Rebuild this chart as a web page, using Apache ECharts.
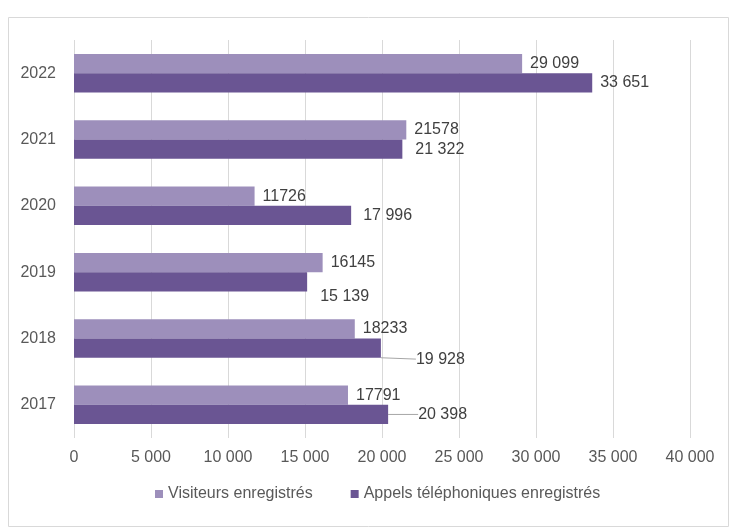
<!DOCTYPE html>
<html>
<head>
<meta charset="utf-8">
<script src="https://cdn.jsdelivr.net/npm/echarts@6/dist/echarts.min.js"></script>
<style>
  html, body { margin: 0; padding: 0; background: #fff; }
  #chart { width: 732px; height: 529px; }
</style>
</head>
<body>
<div id="chart"></div>
<script>
// years, bottom to top
const years = ['2017', '2018', '2019', '2020', '2021', '2022'];
const visiteurs = [17791, 18233, 16145, 11726, 21578, 29099];
const appels = [20398, 19928, 15139, 17996, 21322, 33651];
// labels as printed on the original
const visiteursLabels = ['17791', '18233', '16145', '11726', '21578', '29 099'];
const appelsLabels = ['20 398', '19 928', '15 139', '17 996', '21 322', '33 651'];
const xTicks = [0, 5000, 10000, 15000, 20000, 25000, 30000, 35000, 40000];

const txt = '#404040';
const font = 'Liberation Sans';

function fmt(v) {
  return String(v).replace(/\B(?=(\d{3})+(?!\d))/g, ' ');
}

// moved labels for the darker series (dx, dy)
const appelsShift = { 0: [22, 0], 1: [27, 11], 2: [5, 15], 3: [4, 0], 4: [5, 0] };

let myChart = echarts.init(document.getElementById('chart'));
myChart.setOption({
  animation: false,
  textStyle: { fontFamily: font },
  color: ['#9d8fbb', '#6a5593'],
  graphic: [{
    type: 'rect',
    shape: { x: 8.5, y: 17.5, width: 720, height: 509 },
    style: { fill: 'none', stroke: '#d9d9d9', lineWidth: 1 },
    silent: true
  }],
  grid: { left: 74, right: 42, top: 40, bottom: 91 },
  legend: {
    bottom: 22,
    left: 150,
    itemWidth: 8,
    itemHeight: 8,
    itemGap: 38,
    icon: 'rect',
    textStyle: { color: '#595959', fontSize: 16, fontFamily: font },
    data: ['Visiteurs enregistrés', 'Appels téléphoniques enregistrés']
  },
  xAxis: {
    type: 'value',
    min: 0,
    max: 40000,
    interval: 5000,
    axisLine: { show: false },
    axisTick: { show: false },
    splitLine: { show: true, lineStyle: { color: '#d9d9d9' } },
    axisLabel: {
      color: '#595959', fontSize: 16, margin: 12,
      formatter: function (v) { return xTicks.indexOf(v) >= 0 ? fmt(v) : ''; }
    }
  },
  yAxis: {
    type: 'category',
    data: years,
    axisLine: { show: false },
    axisTick: { show: false },
    axisLabel: { color: '#595959', fontSize: 16, margin: 18 }
  },
  series: [
    {
      name: 'Visiteurs enregistrés',
      type: 'bar',
      data: visiteurs,
      barGap: '0%',
      barCategoryGap: '42%',
      label: {
        show: true, position: 'right', distance: 8,
        color: txt, fontSize: 16,
        formatter: function (p) { return visiteursLabels[p.dataIndex]; }
      }
    },
    {
      name: 'Appels téléphoniques enregistrés',
      type: 'bar',
      data: appels.map(function (v, i) {
        const item = { value: v };
        if (i === 0 || i === 1) {
          item.labelLine = { show: true };
        }
        return item;
      }),
      barGap: '0%',
      barCategoryGap: '42%',
      label: {
        show: true, position: 'right', distance: 8,
        color: txt, fontSize: 16,
        formatter: function (p) { return appelsLabels[p.dataIndex]; }
      },
      labelLine: { show: false, lineStyle: { color: '#a6a6a6', width: 1 } },
      labelLayout: function (p) {
        const s = appelsShift[p.dataIndex];
        if (s) return { dx: s[0], dy: s[1] };
        return {};
      }
    }
  ]
});
</script>
</body>
</html>
